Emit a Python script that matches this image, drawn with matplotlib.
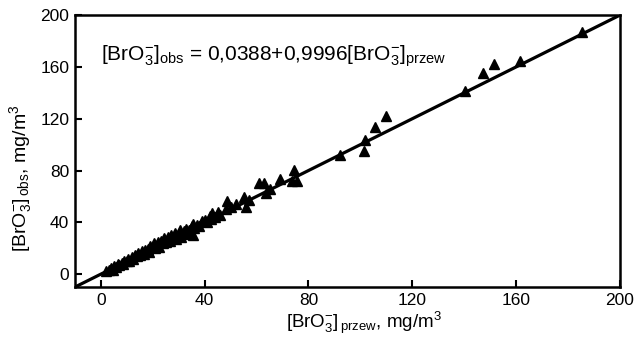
import matplotlib
matplotlib.use("Agg")
import matplotlib.pyplot as plt
import numpy as np

plt.rcParams['font.family'] = ['Liberation Sans', 'DejaVu Sans']
plt.rcParams['mathtext.fontset'] = 'custom'
plt.rcParams['mathtext.rm'] = 'Liberation Sans'
plt.rcParams['mathtext.it'] = 'Liberation Sans'
plt.rcParams['mathtext.bf'] = 'Liberation Sans:bold'

# measured data: predicted (x) vs observed (y), mg/m3
x_pred = [2, 3, 4, 4.5, 5, 6, 6.5, 7, 8, 8.5, 9, 10, 10.5, 11, 12, 12.5, 13, 14,
          14.5, 15, 16, 16.5, 17, 18, 18.5, 19, 20, 20.5, 21, 22, 22.5, 23, 24,
          24.5, 25, 26, 26.5, 27, 28, 28.5, 29, 30, 30.5, 31, 32, 33, 33.5, 34,
          35, 35.4, 35.4, 36, 37, 38, 39, 40, 41, 42, 42.4, 43, 44, 45, 46,
          48.2, 48.8, 50, 52, 55.2, 55.8, 57, 61, 62.8, 63.5, 65, 69.2, 73.7,
          74.3, 75.6, 92, 101.4, 101.8, 105.6, 109.8, 140.5, 147.4, 151.6,
          161.6, 185.4]
y_obs = [2.5, 3, 4.5, 3.5, 6, 5.5, 7.5, 7, 9, 7.5, 10, 10.5, 12, 10, 13.5, 12,
         15, 14, 16.5, 15, 18, 15.5, 19, 19.5, 17, 22, 21, 24, 20, 25, 21, 26,
         24, 28, 25, 29, 25.5, 30, 28, 32, 27, 31, 34, 29, 33, 35, 31, 34, 37,
         39, 30.2, 36, 38, 37, 41, 42, 40, 45, 42.8, 47, 44, 48, 46, 50.4,
         56.8, 52, 54, 59.3, 51.7, 57, 70.7, 70.7, 63, 66, 73.2, 72, 80.8, 72,
         91.8, 94.8, 103.7, 113.8, 122.2, 141.2, 155, 162, 164.5, 187.3]

intercept = 0.0388
slope = 0.9996
x_ticks = [0, 40, 80, 120, 160, 200]
y_ticks = [0, 40, 80, 120, 160, 200]

fig = plt.figure(figsize=(6.35, 3.37), dpi=100)
ax = fig.add_axes([0.118, 0.148, 0.858, 0.807])

xl = np.array([-10, 200])
ax.plot(xl, intercept + slope * xl, color='black', lw=2.3, zorder=2)
ax.plot(x_pred, y_obs, linestyle='none', marker='^', color='black',
        markersize=6.5, zorder=3)

ax.set_xlim(-10, 200)
ax.set_ylim(-10, 200)
ax.set_xticks(x_ticks)
ax.set_yticks(y_ticks)
ax.tick_params(direction='in', length=5, width=1.5, labelsize=12.5, pad=4)
for s in ax.spines.values():
    s.set_linewidth(1.8)

ax.text(0, 168, r'[BrO$_3^{-}$]$_{\rm obs}$ = 0,0388+0,9996[BrO$_3^{-}$]$_{\rm przew}$',
        fontsize=15, va='center', ha='left')

ax.set_xlabel(r'[BrO$_3^{-}$]$_{\,\rm przew}$, mg/m$^3$', fontsize=13.5)
ax.set_ylabel(r'[BrO$_3^{-}$]$_{\,\rm obs}$, mg/m$^3$', fontsize=14)
ax.xaxis.label.set_va('bottom')
ax.xaxis.set_label_coords(0.53, -0.178)
ax.yaxis.set_label_coords(-0.075, 0.40)

fig.savefig('out.png', dpi=100)
